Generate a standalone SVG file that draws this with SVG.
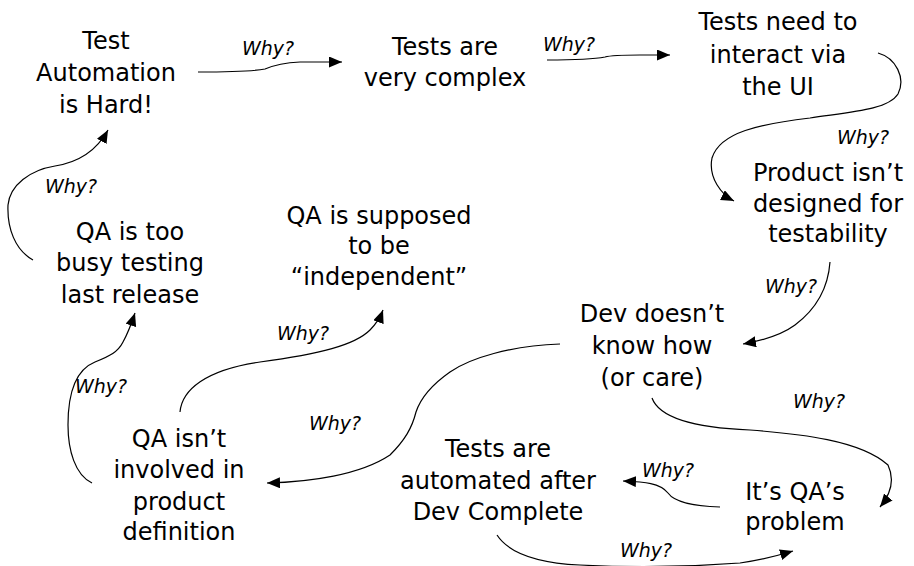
<svg xmlns="http://www.w3.org/2000/svg" width="914" height="566" viewBox="0 0 914 566">
<defs>
<style>
.n{font-family:"DejaVu Sans","Liberation Sans",sans-serif;font-size:24px;fill:#000;text-anchor:middle}
.w{font-family:"DejaVu Sans","Liberation Sans",sans-serif;font-size:19px;font-style:italic;fill:#000}
.c{fill:none;stroke:#000;stroke-width:1.2;marker-end:url(#ah)}
</style>
<marker id="ah" markerUnits="userSpaceOnUse" markerWidth="14" markerHeight="12" refX="13" refY="5.5" orient="auto">
<path d="M0,0 L13,5.5 L0,11 z" fill="#000"/>
</marker>
</defs>
<rect width="914" height="566" fill="#fff"/>
<g id="connectors">
<path class="c" d="M198,72 C230,72 255,71 265,69 C272,66 280,63 300,62 L342,62"/>
<path class="c" d="M547,60 C575,60 595,59 605,57 C612,55 620,55 640,55 L670,55"/>
<path class="c" d="M878,53 C896,58 906,78 898,94 C888,110 850,112 810,118 C760,124 720,132 712,158 C708,178 722,195 734,201"/>
<path class="c" d="M830,262 C828,290 815,310 795,325 C780,336 760,341 743,344"/>
<path class="c" d="M652,398 C660,420 700,428 750,430 C800,434 860,440 888,465 C895,480 890,495 880,507"/>
<path class="c" d="M720,507 C695,506 675,503 668,493 C660,483 645,482 623,481"/>
<path class="c" d="M497,535 C510,555 540,563 580,565 C640,568 700,566 740,563 C760,560 780,555 793,551"/>
<path class="c" d="M560,344 C510,346 470,358 450,372 C430,386 420,400 416,412 C412,428 405,440 390,455 C360,475 310,482 267,483"/>
<path class="c" d="M180,412 C182,390 205,370 260,362 C320,354 355,345 370,330 C376,324 380,318 383,310"/>
<path class="c" d="M92,483 C75,475 68,450 68,425 C68,395 75,370 95,362 C110,356 118,352 123,342 C128,333 132,322 135,313"/>
<path class="c" d="M33,260 C15,250 7,228 8,205 C10,185 30,170 55,166 C80,162 97,150 108,130"/>
</g>
<g id="labels">
<text class="w" x="242" y="55">Why?</text>
<text class="w" x="543" y="51">Why?</text>
<text class="w" x="837" y="144">Why?</text>
<text class="w" x="765" y="293">Why?</text>
<text class="w" x="793" y="408">Why?</text>
<text class="w" x="642" y="477">Why?</text>
<text class="w" x="620" y="557">Why?</text>
<text class="w" x="309" y="430">Why?</text>
<text class="w" x="277" y="340">Why?</text>
<text class="w" x="75" y="393">Why?</text>
<text class="w" x="45" y="193">Why?</text>
</g>
<g id="n1"><text class="n" x="106" y="49">Test</text><text class="n" x="106" y="81">Automation</text><text class="n" x="106" y="113">is Hard!</text></g>
<g id="n2"><text class="n" x="445" y="55">Tests are</text><text class="n" x="445" y="86">very complex</text></g>
<g id="n3"><text class="n" x="778" y="30">Tests need to</text><text class="n" x="778" y="63">interact via</text><text class="n" x="778" y="95">the UI</text></g>
<g id="n4"><text class="n" x="828" y="181">Product isn’t</text><text class="n" x="828" y="212">designed for</text><text class="n" x="828" y="242">testability</text></g>
<g id="n5"><text class="n" x="652" y="322">Dev doesn’t</text><text class="n" x="652" y="354">know how</text><text class="n" x="652" y="386">(or care)</text></g>
<g id="n6"><text class="n" x="379" y="224">QA is supposed</text><text class="n" x="379" y="254">to be</text><text class="n" x="379" y="285">“independent”</text></g>
<g id="n7"><text class="n" x="130" y="240">QA is too</text><text class="n" x="130" y="271">busy testing</text><text class="n" x="130" y="303">last release</text></g>
<g id="n8"><text class="n" x="179" y="447">QA isn’t</text><text class="n" x="179" y="478">involved in</text><text class="n" x="179" y="510">product</text><text class="n" x="179" y="540">definition</text></g>
<g id="n9"><text class="n" x="498" y="457">Tests are</text><text class="n" x="498" y="489">automated after</text><text class="n" x="498" y="520">Dev Complete</text></g>
<g id="n10"><text class="n" x="795" y="500">It’s QA’s</text><text class="n" x="795" y="530">problem</text></g>
</svg>
